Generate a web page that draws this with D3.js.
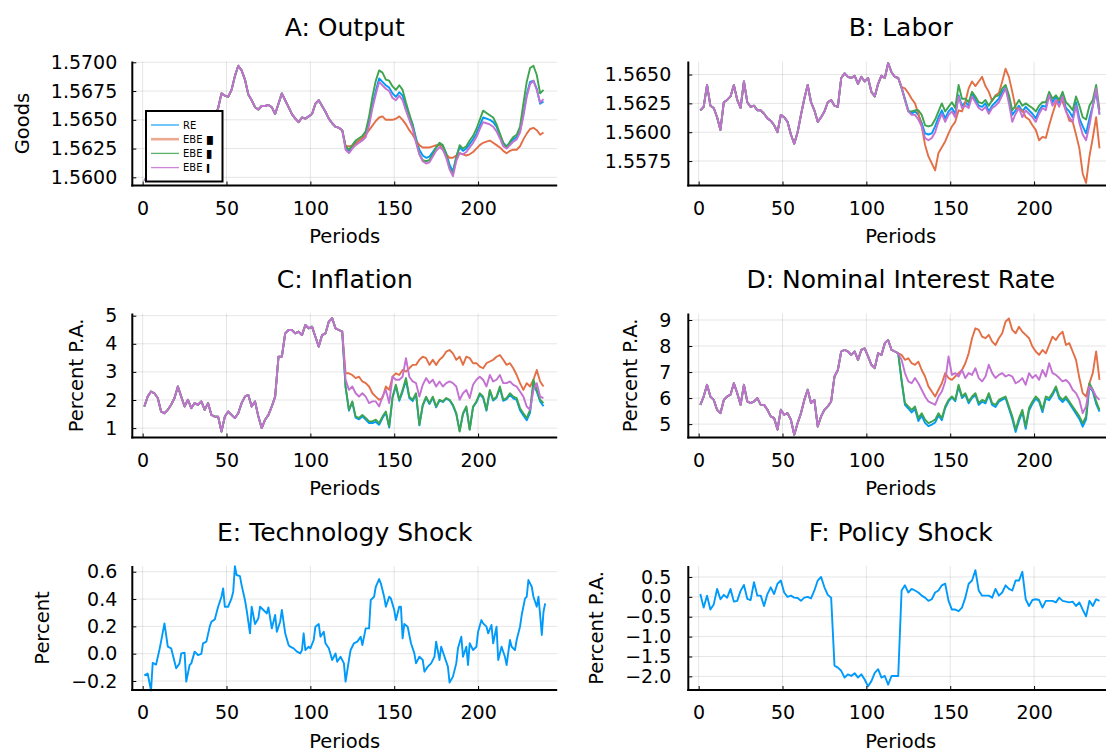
<!DOCTYPE html>
<html>
<head>
<meta charset="utf-8">
<script src="https://cdn.jsdelivr.net/npm/d3@7"></script>
<style>
  body { margin: 0; background: #fff; }
  svg text { font-family: "DejaVu Sans", sans-serif; fill: #000; }
</style>
</head>
<body>
<svg id="chart" width="1106" height="753"></svg>
<script>
// periods sampled every second quarter, shared part is 1..119, split part 121..239
const periods = d3.range(1, 240, 2);
const xTicks = [0, 50, 100, 150, 200];
const seriesNames = ['RE', 'EBE', 'EBE', 'EBE'];
const seriesMarks = ['', '\u2588', '\u258A', '\u258D'];

// A: Output
const outputCommon = [1.5597,1.5601,1.5606,1.5610,1.5608,1.5614,1.5619,1.5617,1.5622,1.5626,
  1.5624,1.5629,1.5633,1.5631,1.5636,1.5640,1.5638,1.5643,1.5647,1.5646,
  1.5650,1.5654,1.5660,1.5673,1.5671,1.5670,1.5676,1.5688,1.5697,1.5693,
  1.5685,1.5672,1.5667,1.5661,1.5659,1.5662,1.5662,1.5663,1.5661,1.5655,
  1.5664,1.5673,1.5667,1.5661,1.5655,1.5651,1.5648,1.5652,1.5651,1.5653,
  1.5655,1.5664,1.5667,1.5662,1.5657,1.5651,1.5647,1.5644,1.5643,1.5641];
const outputRE = [1.5626,1.5623,1.5627,1.5630,1.5632,1.5634,1.5637,1.5648,1.5663,1.5675,
  1.5686,1.5683,1.5680,1.5678,1.5673,1.5670,1.5674,1.5671,1.5662,1.5654,
  1.5646,1.5634,1.5624,1.5619,1.5617,1.5618,1.5622,1.5626,1.5629,1.5627,
  1.5621,1.5611,1.5605,1.5618,1.5626,1.5623,1.5625,1.5629,1.5633,1.5638,
  1.5645,1.5652,1.5651,1.5650,1.5648,1.5644,1.5637,1.5630,1.5627,1.5630,
  1.5633,1.5635,1.5640,1.5655,1.5672,1.5683,1.5684,1.5677,1.5664,1.5666];
const outputEBE1 = [1.5627,1.5627,1.5627,1.5629,1.5632,1.5634,1.5637,1.5641,1.5645,1.5649,
  1.5652,1.5653,1.5650,1.5650,1.5650,1.5651,1.5653,1.5650,1.5646,1.5641,
  1.5637,1.5632,1.5628,1.5626,1.5626,1.5626,1.5627,1.5628,1.5628,1.5624,
  1.5620,1.5617,1.5617,1.5619,1.5621,1.5620,1.5619,1.5620,1.5622,1.5625,
  1.5628,1.5630,1.5631,1.5632,1.5630,1.5628,1.5626,1.5623,1.5621,1.5623,
  1.5624,1.5624,1.5627,1.5633,1.5638,1.5642,1.5643,1.5641,1.5637,1.5639];
const outputEBE2 = [1.5627,1.5624,1.5628,1.5632,1.5634,1.5636,1.5640,1.5653,1.5670,1.5684,
  1.5693,1.5691,1.5685,1.5684,1.5679,1.5676,1.5680,1.5676,1.5665,1.5655,
  1.5645,1.5632,1.5620,1.5615,1.5614,1.5615,1.5620,1.5626,1.5630,1.5628,
  1.5620,1.5608,1.5603,1.5617,1.5628,1.5625,1.5627,1.5632,1.5636,1.5642,
  1.5650,1.5658,1.5656,1.5654,1.5652,1.5646,1.5638,1.5630,1.5626,1.5631,
  1.5635,1.5637,1.5644,1.5664,1.5683,1.5695,1.5697,1.5689,1.5673,1.5676];
const outputEBE3 = [1.5624,1.5621,1.5625,1.5628,1.5630,1.5632,1.5635,1.5645,1.5660,1.5672,
  1.5683,1.5680,1.5677,1.5675,1.5669,1.5667,1.5671,1.5667,1.5658,1.5650,
  1.5642,1.5630,1.5620,1.5614,1.5612,1.5613,1.5618,1.5623,1.5626,1.5624,
  1.5617,1.5607,1.5601,1.5614,1.5621,1.5620,1.5622,1.5626,1.5630,1.5635,
  1.5642,1.5648,1.5647,1.5646,1.5644,1.5640,1.5634,1.5627,1.5625,1.5628,
  1.5631,1.5633,1.5639,1.5653,1.5670,1.5681,1.5684,1.5676,1.5665,1.5668];

// B: Labor
const laborCommon = [1.5619,1.5622,1.5641,1.5623,1.5621,1.5613,1.5602,1.5626,1.5628,1.5631,
  1.5641,1.5628,1.5621,1.5644,1.5626,1.5622,1.5623,1.5619,1.5619,1.5616,
  1.5612,1.5610,1.5606,1.5600,1.5615,1.5613,1.5609,1.5598,1.5590,1.5600,
  1.5615,1.5629,1.5641,1.5626,1.5619,1.5609,1.5613,1.5618,1.5626,1.5628,
  1.5623,1.5622,1.5647,1.5651,1.5648,1.5647,1.5649,1.5642,1.5648,1.5644,
  1.5647,1.5635,1.5631,1.5642,1.5649,1.5647,1.5660,1.5652,1.5648,1.5647];
const laborRE = [1.5639,1.5629,1.5619,1.5616,1.5618,1.5615,1.5608,1.5599,1.5598,1.5599,
  1.5605,1.5613,1.5619,1.5612,1.5618,1.5621,1.5616,1.5632,1.5623,1.5626,
  1.5623,1.5634,1.5628,1.5623,1.5622,1.5625,1.5618,1.5623,1.5626,1.5629,
  1.5635,1.5639,1.5628,1.5615,1.5619,1.5623,1.5618,1.5622,1.5619,1.5616,
  1.5612,1.5619,1.5623,1.5622,1.5634,1.5626,1.5631,1.5625,1.5632,1.5621,
  1.5618,1.5613,1.5626,1.5612,1.5605,1.5599,1.5612,1.5623,1.5635,1.5616];
const laborEBE1 = [1.5639,1.5638,1.5634,1.5629,1.5625,1.5616,1.5605,1.5589,1.5579,1.5573,
  1.5567,1.5582,1.5587,1.5592,1.5599,1.5605,1.5609,1.5619,1.5618,1.5626,
  1.5638,1.5644,1.5640,1.5644,1.5648,1.5640,1.5635,1.5627,1.5632,1.5634,
  1.5644,1.5655,1.5648,1.5635,1.5621,1.5620,1.5619,1.5613,1.5611,1.5606,
  1.5602,1.5593,1.5596,1.5595,1.5606,1.5616,1.5625,1.5629,1.5626,1.5619,
  1.5610,1.5609,1.5598,1.5586,1.5564,1.5556,1.5579,1.5595,1.5613,1.5586];
const laborEBE2 = [1.5638,1.5628,1.5618,1.5618,1.5619,1.5619,1.5615,1.5606,1.5605,1.5606,
  1.5611,1.5618,1.5625,1.5618,1.5622,1.5626,1.5621,1.5641,1.5629,1.5629,
  1.5626,1.5635,1.5631,1.5626,1.5625,1.5628,1.5623,1.5628,1.5631,1.5632,
  1.5638,1.5641,1.5632,1.5619,1.5623,1.5628,1.5623,1.5625,1.5623,1.5621,
  1.5618,1.5623,1.5626,1.5626,1.5635,1.5629,1.5632,1.5628,1.5635,1.5626,
  1.5623,1.5619,1.5631,1.5623,1.5613,1.5611,1.5623,1.5628,1.5641,1.5619];
const laborEBE3 = [1.5639,1.5628,1.5618,1.5615,1.5615,1.5611,1.5605,1.5595,1.5593,1.5595,
  1.5600,1.5609,1.5616,1.5609,1.5615,1.5618,1.5613,1.5631,1.5621,1.5623,
  1.5621,1.5631,1.5626,1.5621,1.5619,1.5622,1.5616,1.5621,1.5623,1.5626,
  1.5632,1.5638,1.5625,1.5609,1.5616,1.5621,1.5613,1.5619,1.5616,1.5613,
  1.5609,1.5616,1.5621,1.5619,1.5632,1.5623,1.5628,1.5622,1.5631,1.5618,
  1.5613,1.5609,1.5623,1.5608,1.5598,1.5593,1.5606,1.5622,1.5638,1.5615];

// C: Inflation
const inflationCommon = [1.77,2.12,2.30,2.24,2.07,1.59,1.53,1.65,1.83,2.07,
  2.48,2.12,1.77,2.01,1.71,1.89,1.83,1.95,1.65,1.89,
  1.47,1.41,1.41,0.88,1.41,1.59,1.47,1.36,1.53,1.89,
  2.12,2.18,1.77,1.95,1.41,1.00,1.30,1.47,1.77,2.12,
  3.54,3.54,4.37,4.49,4.49,4.37,4.43,4.31,4.67,4.55,
  4.61,4.25,3.90,4.31,4.37,4.79,4.91,4.55,4.49,4.43];
const inflationRE = [2.45,1.62,1.92,1.37,1.31,1.42,1.30,1.18,1.18,1.22,
  1.12,1.36,1.55,1.02,2.08,2.50,1.97,2.30,2.70,2.07,
  1.96,2.20,1.10,1.80,2.08,1.86,2.08,1.74,1.98,1.93,
  2.05,1.99,1.80,1.50,0.90,1.50,1.72,0.96,1.74,1.92,
  2.20,2.08,1.62,2.32,1.98,2.08,2.42,1.97,2.03,2.18,
  2.06,2.00,1.64,1.45,1.28,1.55,2.55,2.30,1.95,1.78];
const inflationEBE1 = [2.95,2.95,2.89,2.78,2.83,2.66,2.60,2.48,2.24,2.12,
  2.01,2.07,2.48,2.36,2.83,2.95,2.89,3.07,3.01,3.13,
  3.25,3.25,3.43,3.54,3.49,3.25,3.43,3.25,3.43,3.54,
  3.72,3.78,3.66,3.43,3.54,3.25,3.54,3.49,3.31,3.31,
  3.19,3.13,3.31,3.37,3.43,3.54,3.60,3.43,3.25,3.31,
  3.13,2.89,2.60,2.36,2.60,2.48,2.72,3.07,2.66,2.48];
const inflationEBE2 = [2.48,1.65,1.95,1.41,1.36,1.47,1.36,1.24,1.24,1.30,
  1.18,1.41,1.59,1.06,2.12,2.54,2.01,2.36,2.78,2.12,
  2.01,2.24,1.12,1.83,2.12,1.89,2.12,1.77,2.01,1.95,
  2.07,2.01,1.83,1.53,0.88,1.53,1.77,0.94,1.77,1.95,
  2.24,2.12,1.65,2.36,2.01,2.12,2.48,2.01,2.07,2.24,
  2.12,2.07,1.71,1.53,1.36,1.65,2.72,2.36,2.01,1.89];
const inflationEBE3 = [2.72,2.36,2.48,2.24,2.12,2.24,2.12,1.89,1.95,1.95,
  1.77,2.12,2.36,1.89,2.83,2.72,2.72,2.83,3.49,2.83,
  2.66,2.60,2.12,2.54,2.78,2.60,2.72,2.48,2.66,2.48,
  2.60,2.66,2.60,2.48,2.01,2.24,2.36,2.07,2.54,2.72,
  2.83,2.72,2.48,2.89,2.66,2.72,2.89,2.60,2.60,2.66,
  2.54,2.48,2.30,2.12,1.77,1.65,2.36,2.60,2.12,2.07];

// D: Nominal interest rate
const rateCommon = [5.74,6.06,6.51,6.06,5.93,5.55,5.42,5.93,6.06,6.13,
  6.57,6.19,5.74,6.51,5.87,5.81,5.87,6.00,5.74,5.74,
  5.55,5.30,5.23,4.79,5.55,5.36,5.42,5.17,4.59,5.04,
  5.42,5.93,6.32,5.81,5.93,4.91,5.30,5.55,5.68,5.87,
  6.83,7.08,7.79,7.85,7.79,7.66,7.79,7.47,7.85,7.91,
  7.60,7.28,7.15,7.72,7.66,8.11,8.23,7.85,7.79,7.72];
const rateRE = [6.65,5.74,5.60,5.45,5.58,5.12,5.32,5.05,4.92,4.98,
  5.06,5.33,5.15,5.62,5.88,6.02,5.88,6.45,6.00,6.13,
  5.80,6.00,6.12,5.74,5.86,5.80,6.12,5.74,5.66,5.86,
  5.94,6.00,5.60,5.20,4.70,5.12,5.46,4.82,5.52,5.78,
  5.98,5.86,5.46,5.98,5.92,6.12,6.38,5.98,5.85,5.98,
  5.80,5.60,5.40,5.20,4.90,5.18,6.45,6.25,5.78,5.48];
const rateEBE1 = [7.66,7.47,7.53,7.34,7.28,7.40,7.08,6.83,6.45,6.25,
  6.06,6.32,6.57,6.96,6.77,6.70,6.83,6.96,7.08,7.34,
  7.72,8.30,8.68,8.62,8.36,8.30,8.43,8.17,8.04,8.30,
  8.49,8.94,9.06,8.62,8.49,8.74,8.55,8.43,8.30,7.98,
  7.79,7.66,7.85,7.72,8.04,8.36,8.23,8.43,8.55,8.04,
  8.11,7.79,7.47,6.77,6.19,6.06,6.57,6.96,7.79,6.70];
const rateEBE2 = [6.70,5.81,5.68,5.55,5.68,5.23,5.42,5.17,5.04,5.10,
  5.17,5.42,5.23,5.68,5.93,6.06,5.93,6.51,6.06,6.19,
  5.87,6.06,6.19,5.81,5.93,5.87,6.19,5.81,5.74,5.93,
  6.00,6.06,5.68,5.30,4.79,5.23,5.55,4.91,5.62,5.87,
  6.06,5.93,5.55,6.06,6.00,6.19,6.45,6.06,5.93,6.06,
  5.87,5.68,5.49,5.30,5.04,5.30,6.57,6.32,5.87,5.55];
const rateEBE3 = [7.47,6.96,6.64,6.57,6.77,6.57,6.32,6.06,5.87,5.81,
  5.74,6.06,6.25,6.64,7.60,6.89,6.96,6.83,7.08,6.77,
  6.96,6.89,7.15,6.77,6.64,6.83,7.28,6.96,6.77,6.89,
  6.96,6.83,6.89,6.83,6.57,6.64,6.77,6.51,6.96,6.77,
  6.89,6.70,7.08,6.83,7.34,6.96,6.89,6.77,6.64,6.70,
  6.57,6.32,6.19,5.93,5.42,5.68,6.45,6.32,6.06,5.93];

// E: Technology shock (read at its own turning points)
const techPeriods = [1,3,5,6,8,10,11,13,15,17,18,20,22,23,25,26,28,29,31,33,35,36,38,40,41,43,45,47,48,49,
  51,53,54,55,56,58,59,61,62,64,65,67,69,70,72,74,75,77,79,80,82,83,85,87,88,90,92,94,95,96,
  97,99,100,102,103,105,106,108,109,111,113,115,116,118,120,121,123,124,126,128,130,131,133,135,136,138,139,141,142,144,
  145,147,148,150,151,153,154,155,156,158,160,162,163,165,167,168,170,172,174,175,177,178,180,182,183,185,187,188,190,191,
  193,194,195,197,199,200,202,203,205,206,208,209,211,212,214,216,217,219,220,222,223,225,226,228,229,230,232,233,235,236,
  237,238,239,240];
const techValues = [-0.159,-0.146,-0.27,-0.068,-0.080,0.029,0.090,0.222,0.051,0.039,-0.010,-0.107,-0.071,0.002,0.007,-0.205,-0.083,-0.071,0.015,-0.010,-0.002,0.076,0.088,0.198,0.234,0.251,0.344,0.417,0.478,0.344,
  0.344,0.405,0.454,0.640,0.576,0.568,0.502,0.393,0.320,0.149,0.344,0.217,0.258,0.344,0.320,0.295,0.339,0.185,0.283,0.161,0.234,0.320,0.149,0.063,0.051,0.039,0.015,0.002,0.027,0.149,
  0.027,0.051,0.039,0.100,0.198,0.217,0.124,0.161,0.076,0.039,-0.046,0.002,-0.059,-0.022,-0.071,-0.205,-0.046,0.027,0.076,0.088,0.124,0.063,0.185,0.185,0.393,0.417,0.490,0.546,0.515,0.417,
  0.344,0.417,0.405,0.320,0.246,0.344,0.344,0.112,0.217,0.198,0.076,0.002,-0.071,-0.022,-0.046,-0.132,-0.095,-0.071,-0.022,0.088,-0.046,0.051,-0.022,-0.095,-0.212,-0.168,-0.071,0.039,0.124,-0.022,
  0.051,-0.083,0.076,0.027,0.051,0.161,0.246,0.222,0.198,0.149,0.210,0.076,0.198,-0.046,0.051,-0.022,-0.083,0.100,0.051,0.027,0.100,0.198,0.283,0.405,0.417,0.539,0.490,0.417,0.344,0.417,
  0.283,0.137,0.307,0.368];

// F: Policy shock
const policyValues = [0.07,-0.27,0.03,-0.32,-0.19,0.20,-0.06,0.05,-0.02,0.20,
  -0.12,-0.10,0.15,0.30,-0.05,-0.08,0.37,0.03,0.03,-0.23,
  0.07,0.24,0.07,0.33,0.41,0.11,0.00,0.03,-0.02,-0.03,
  -0.10,-0.02,0.00,-0.04,0.16,0.41,0.50,0.24,0.05,-0.02,
  -1.73,-1.78,-1.86,-2.03,-1.95,-1.99,-1.92,-2.03,-1.95,-2.08,
  -2.25,-2.12,-1.91,-1.82,-2.03,-1.99,-2.21,-1.99,-1.99,-1.99,
  0.16,0.29,0.11,0.20,0.16,0.11,0.03,-0.02,-0.10,-0.06,
  0.11,0.16,0.29,0.33,-0.10,-0.32,-0.32,-0.36,-0.27,-0.02,
  0.33,0.41,0.67,0.16,0.03,0.03,0.03,-0.02,0.20,0.03,
  0.11,0.29,0.20,0.16,0.41,0.41,0.63,-0.06,-0.23,-0.08,
  -0.06,-0.08,-0.27,-0.10,-0.10,-0.10,-0.14,-0.02,-0.10,-0.12,
  -0.14,-0.12,-0.23,-0.14,-0.32,-0.49,-0.10,-0.23,-0.06,-0.10];

const colors = ['#009AFA', '#E36F47', '#3EA44E', '#C371D2'];

const zip = (xs, ys) => xs.map((t, i) => [t, ys[i]]);
const split = (common, tails) => tails.map(tail => zip(periods, common.concat(tail)));

const panels = [
  { title: 'A: Output', ylabel: 'Goods', col: 0, row: 0,
    domain: [1.55929, 1.57007], ticks: [1.56, 1.5625, 1.565, 1.5675, 1.57], fmt: '.4f', legend: true,
    series: split(outputCommon, [outputRE, outputEBE1, outputEBE2, outputEBE3]) },
  { title: 'B: Labor', ylabel: '', col: 1, row: 0,
    domain: [1.55538, 1.56613], ticks: [1.5575, 1.56, 1.5625, 1.565], fmt: '.4f',
    series: split(laborCommon, [laborRE, laborEBE1, laborEBE2, laborEBE3]) },
  { title: 'C: Inflation', ylabel: 'Percent P.A.', col: 0, row: 1,
    domain: [0.666, 5.078], ticks: [1, 2, 3, 4, 5], fmt: 'd',
    series: split(inflationCommon, [inflationRE, inflationEBE1, inflationEBE2, inflationEBE3]) },
  { title: 'D: Nominal Interest Rate', ylabel: 'Percent P.A.', col: 1, row: 1,
    domain: [4.486, 9.25], ticks: [5, 6, 7, 8, 9], fmt: 'd',
    series: split(rateCommon, [rateRE, rateEBE1, rateEBE2, rateEBE3]) },
  { title: 'E: Technology Shock', ylabel: 'Percent', col: 0, row: 2,
    domain: [-0.266, 0.642], ticks: [-0.2, 0, 0.2, 0.4, 0.6], fmt: '.1f',
    series: [zip(techPeriods, techValues)] },
  { title: 'F: Policy Shock', ylabel: 'Percent P.A.', col: 1, row: 2,
    domain: [-2.343, 0.776], ticks: [-2, -1.5, -1, -0.5, 0, 0.5], fmt: '.1f',
    series: [zip(periods, policyValues)] }
];

const colX = [[132.3, 557.2], [688.3, 1113.2]];
const rowTop = [61.5, 313.5, 566];
const plotH = 124;

const svg = d3.select('#chart');

panels.forEach(p => {
  const [x0, x1] = colX[p.col];
  const y0 = rowTop[p.row];
  const y1 = y0 + plotH;
  const x = d3.scaleLinear().domain([-6.17, 247.17]).range([x0, x1]);
  const y = d3.scaleLinear().domain(p.domain).range([y1, y0]);
  const g = svg.append('g');

  // grid
  g.append('g').selectAll('line').data(xTicks).join('line')
    .attr('x1', d => x(d)).attr('x2', d => x(d))
    .attr('y1', y0).attr('y2', y1);
  g.append('g').selectAll('line').data(p.ticks).join('line')
    .attr('x1', x0).attr('x2', x1)
    .attr('y1', d => y(d)).attr('y2', d => y(d));
  g.selectAll('g line')
    .attr('stroke', '#000').attr('stroke-opacity', 0.1).attr('stroke-width', 1);

  const line = d3.line().x(d => x(d[0])).y(d => y(d[1]));
  g.append('g').selectAll('path').data(p.series).join('path')
    .attr('d', line)
    .attr('fill', 'none')
    .attr('stroke', (d, i) => colors[i])
    .attr('stroke-width', 1.9)
    .attr('stroke-linejoin', 'round');

  const xAxis = g.append('g')
    .attr('transform', `translate(0,${y1})`)
    .call(d3.axisBottom(x).tickValues(xTicks).tickFormat(d3.format('d'))
      .tickSizeInner(-4).tickSizeOuter(0).tickPadding(16));
  const yAxis = g.append('g')
    .attr('transform', `translate(${x0},0)`)
    .call(d3.axisLeft(y).tickValues(p.ticks).tickFormat(d3.format(p.fmt))
      .tickSizeInner(-4).tickSizeOuter(0).tickPadding(p.col ? 17 : 15));
  [xAxis, yAxis].forEach(a => {
    a.attr('font-family', null).attr('font-size', 19);
    a.select('.domain').attr('stroke-width', 2);
  });
  yAxis.select('.domain').attr('d', `M0,${y0}V${y1 + 1}`);
  xAxis.select('.domain').attr('d', `M${x0 - 1},0H${x1}`);

  g.append('text')
    .attr('x', (x0 + x1) / 2).attr('y', y0 - 34)
    .attr('dy', '0.35em')
    .attr('text-anchor', 'middle')
    .attr('font-size', 25)
    .text(p.title);

  g.append('text')
    .attr('x', (x0 + x1) / 2).attr('y', y1 + 51)
    .attr('dy', '0.35em')
    .attr('text-anchor', 'middle')
    .attr('font-size', 19.5)
    .text('Periods');

  if (p.ylabel) {
    // left edge of the widest tick label, in page coordinates
    const tickLeft = x0 + d3.min(yAxis.selectAll('.tick text').nodes(), n => n.getBBox().x);
    g.append('text')
      .attr('transform', `translate(${tickLeft - 29},${(y0 + y1) / 2}) rotate(-90)`)
      .attr('dy', '0.35em')
      .attr('text-anchor', 'middle')
      .attr('font-size', 19.5)
      .text(p.ylabel);
  }

  if (p.legend) {
    const lg = g.append('g').attr('transform', 'translate(146,111)');
    lg.append('rect')
      .attr('width', 76.5).attr('height', 70.5)
      .attr('fill', '#fff').attr('stroke', '#000').attr('stroke-width', 2);
    const item = lg.selectAll('g.item').data(seriesNames).join('g')
      .attr('class', 'item')
      .attr('transform', (d, i) => `translate(0,${14 + i * 14.2})`);
    item.append('line')
      .attr('x1', 5).attr('x2', 33)
      .attr('stroke', (d, i) => colors[i])
      .attr('stroke-width', (d, i) => i === 1 ? 2.6 : 1.3)
      .attr('stroke-opacity', (d, i) => i === 1 ? 0.6 : 0.85);
    const label = item.append('text')
      .attr('x', 37).attr('dy', '0.35em')
      .attr('font-size', 10)
      .text(d => d);
    label.append('tspan')
      .attr('font-size', 7.5)
      .attr('dx', 4.5)
      .text((d, i) => seriesMarks[i]);
  }
});
</script>
</body>
</html>
